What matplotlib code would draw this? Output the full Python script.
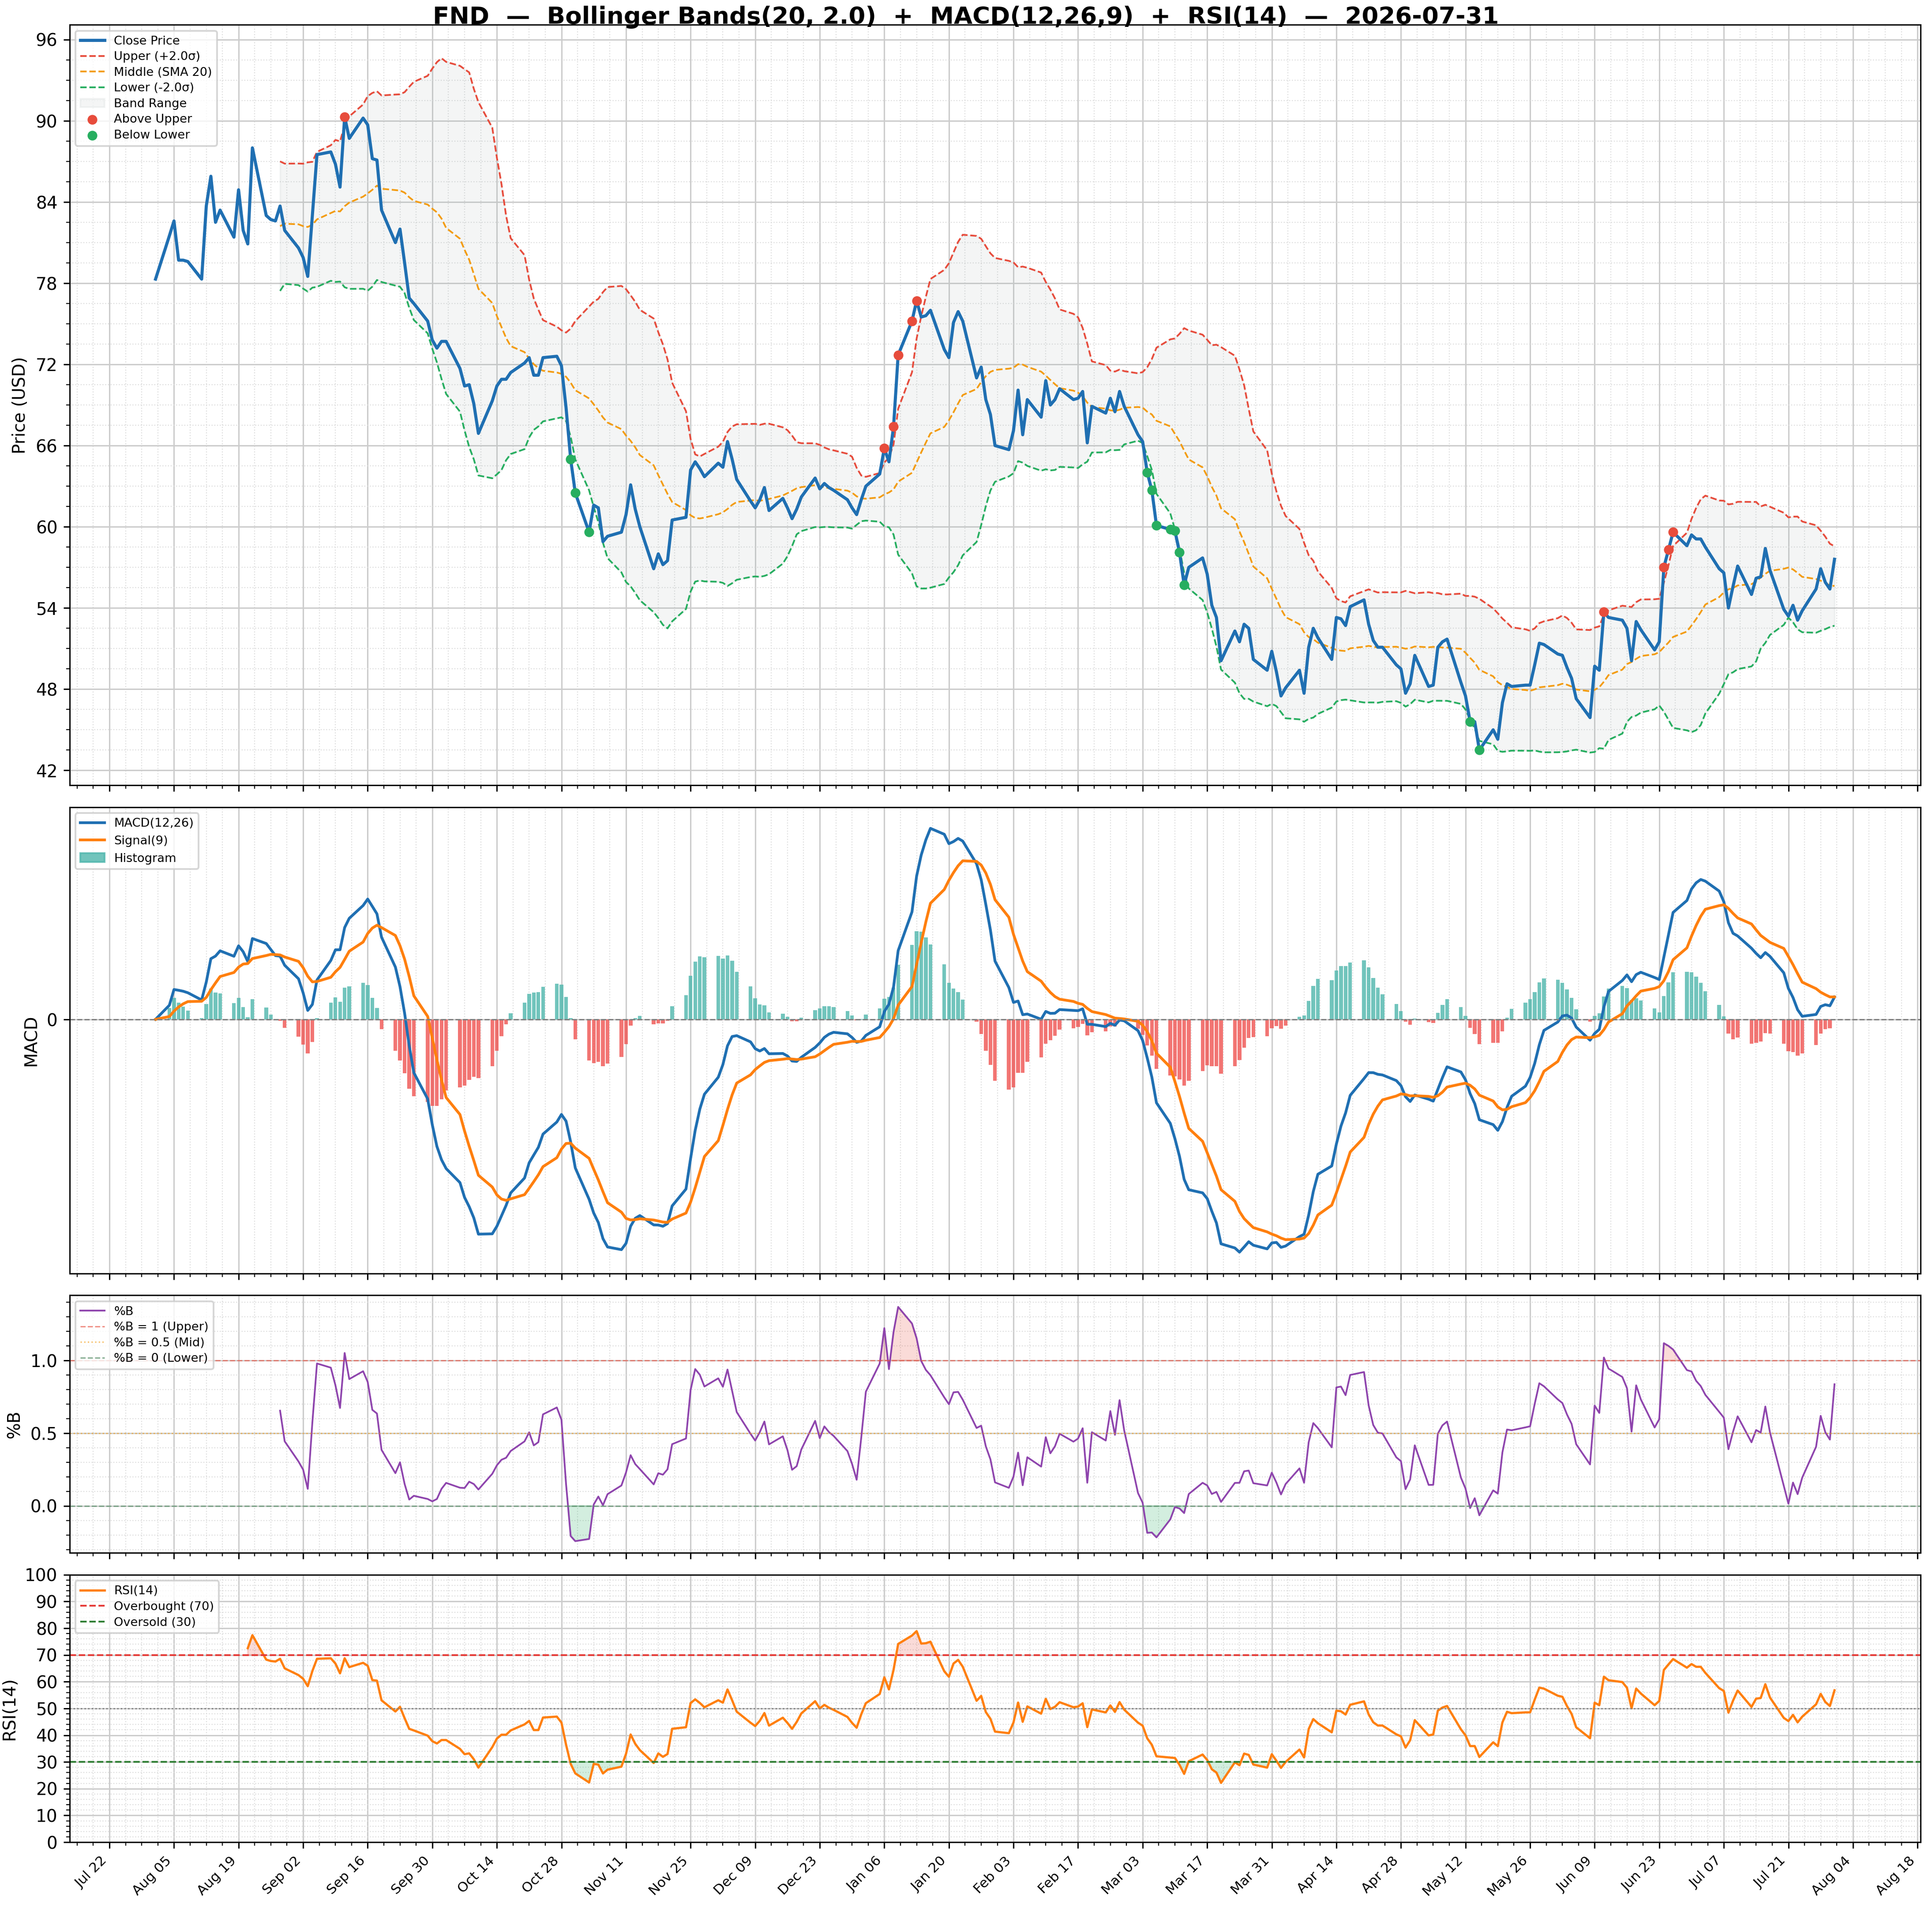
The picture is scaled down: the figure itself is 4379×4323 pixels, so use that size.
import matplotlib
matplotlib.use("Agg")
import matplotlib.pyplot as plt
import matplotlib.dates as mdates
from matplotlib.ticker import AutoMinorLocator, FixedLocator
from matplotlib.patches import Patch
import numpy as np
import pandas as pd

TICKER = "FND"
START = "2025-08-01"

close_aug = [78.3, 81.5, 82.6, 79.7, 79.7, 79.6, 78.3, 83.7, 85.9, 82.5, 83.4, 81.4, 84.9, 81.9, 80.9, 88.0, 83.0, 82.7, 82.6, 83.7, 81.9]
close_sep = [80.6, 79.9, 78.5, 83.0, 87.5, 87.7, 86.8, 85.1, 90.3, 88.7, 90.2, 89.7, 87.2, 87.1, 83.4, 81.0, 82.0, 79.5, 76.9, 76.5, 75.2, 73.8]
close_oct = [73.2, 73.7, 73.7, 71.7, 70.4, 70.5, 69.1, 66.9, 69.3, 70.4, 70.9, 70.9, 71.4, 72.1, 72.5, 71.2, 71.2, 72.5, 72.6, 71.9, 68.8, 65.0, 62.5]
close_nov = [59.6, 61.6, 61.4, 58.9, 59.3, 59.6, 60.9, 63.1, 61.3, 60.0, 56.9, 58.0, 57.2, 57.5, 60.5, 60.7, 64.2, 64.8, 64.3, 63.7]
close_dec = [64.7, 64.4, 66.3, 65.0, 63.5, 61.9, 61.4, 62.0, 62.9, 61.2, 62.1, 61.4, 60.6, 61.3, 62.2, 63.6, 62.8, 63.2, 62.9, 62.7, 62.0, 61.4, 60.9]
close_jan = [62.0, 63.0, 63.9, 65.8, 64.8, 67.4, 72.7, 75.2, 76.7, 75.5, 75.6, 76.0, 73.1, 72.5, 75.1, 75.9, 75.2, 71.0, 71.8, 69.4, 68.3, 66.0]
close_feb = [65.7, 67.1, 70.1, 66.8, 69.4, 68.1, 70.8, 69.0, 69.4, 70.2, 69.4, 69.5, 70.0, 66.2, 68.9, 68.4, 69.5, 68.5, 70.0, 68.9]
close_mar = [66.8, 66.3, 64.0, 62.7, 60.1, 59.8, 59.7, 58.1, 55.7, 57.0, 57.7, 56.5, 54.2, 53.3, 50.1, 52.3, 51.5, 52.8, 52.5, 50.2, 49.4, 50.8]
close_apr = [49.3, 47.5, 48.1, 49.4, 47.7, 51.1, 52.5, 51.8, 50.2, 53.3, 53.2, 52.7, 54.1, 54.6, 52.8, 51.6, 51.1, 51.1, 49.8, 49.5, 47.7, 48.4]
close_may = [50.5, 48.2, 48.3, 51.1, 51.5, 51.7, 48.5, 47.5, 45.6, 45.6, 43.5, 45.0, 44.3, 47.0, 48.4, 48.2, 48.3, 48.3, 49.8, 51.4, 51.3]
close_jun = [50.6, 50.5, 49.6, 48.8, 47.3, 45.9, 49.7, 49.4, 53.7, 53.3, 53.1, 52.5, 50.1, 53.0, 52.4, 50.9, 51.5, 57.0, 58.3, 59.6, 58.6, 59.4]
close_jul = [59.1, 59.1, 58.5, 56.9, 56.6, 54.0, 55.6, 57.1, 55.0, 56.2, 56.3, 58.4, 56.8, 53.9, 53.4, 54.2, 53.1, 53.8, 55.4, 56.9, 55.9, 55.4, 57.6]

closes = (close_aug + close_sep + close_oct + close_nov + close_dec + close_jan +
          close_feb + close_mar + close_apr + close_may + close_jun + close_jul)
dates = pd.bdate_range(START, periods=len(closes))
px = pd.Series(closes, index=dates)

# indicators
mid = px.rolling(20).mean()
sd = px.rolling(20).std(ddof=0)
upper = mid + 2 * sd
lower = mid - 2 * sd
pctb = (px - lower) / (upper - lower)

ema12 = px.ewm(span=12, adjust=False).mean()
ema26 = px.ewm(span=26, adjust=False).mean()
macd = ema12 - ema26
signal = macd.ewm(span=9, adjust=False).mean()
hist = macd - signal

delta = px.diff()
gain = delta.clip(lower=0).ewm(alpha=1/14, min_periods=14, adjust=False).mean()
loss = (-delta.clip(upper=0)).ewm(alpha=1/14, min_periods=14, adjust=False).mean()
rsi = 100 - 100 / (1 + gain / loss)

BLUE = "#1f6fb2"
RED = "#e74c3c"
ORANGE = "#f39c12"
GREEN = "#27ae60"

fig, axes = plt.subplots(4, 1, figsize=(15.64, 15.44), dpi=280, sharex=True,
                         gridspec_kw=dict(height_ratios=[620, 380, 210, 218], hspace=0.05))
fig.subplots_adjust(left=0.036, right=0.994, top=0.987, bottom=0.034)
ax1, ax2, ax3, ax4 = axes

for ax in axes:
    ax.minorticks_on()
    ax.grid(which="major", color="#cccccc", linewidth=0.8)
    ax.grid(which="minor", color="#dddddd", linestyle=":", linewidth=0.6)
    ax.set_axisbelow(True)

# price
ax1.fill_between(dates, lower, upper, color="#95a5a6", alpha=0.1, label="Band Range")
ax1.plot(dates, px, color=BLUE, lw=1.8, label="Close Price", zorder=4)
ax1.plot(dates, upper, color=RED, ls="--", lw=1.0, label="Upper (+2.0σ)")
ax1.plot(dates, mid, color=ORANGE, ls="--", lw=1.0, label="Middle (SMA 20)")
ax1.plot(dates, lower, color=GREEN, ls="--", lw=1.0, label="Lower (-2.0σ)")
above = px > upper
below = px < lower
ax1.scatter(dates[above], px[above], color=RED, s=22, zorder=5, label="Above Upper")
ax1.scatter(dates[below], px[below], color=GREEN, s=22, zorder=5, label="Below Lower")
ax1.set_ylim(40.9, 97.1)
ax1.set_yticks(np.arange(42, 97, 6))
ax1.yaxis.set_minor_locator(AutoMinorLocator(4))
ax1.set_ylabel("Price (USD)", fontsize=10)
h, l = ax1.get_legend_handles_labels()
order = [l.index(k) for k in ["Close Price", "Upper (+2.0σ)", "Middle (SMA 20)", "Lower (-2.0σ)",
                              "Band Range", "Above Upper", "Below Lower"]]
ax1.legend([h[i] for i in order], [l[i] for i in order], loc="upper left", fontsize=7,
           labelspacing=0.35)

# macd
colors = np.where(hist >= 0, "#4db6ac", "#ef5350")
ax2.bar(dates, hist, width=0.8, color=colors, alpha=0.8)
ax2.plot(dates, macd, color=BLUE, lw=1.6)
ax2.plot(dates, signal, color="#ff7f0e", lw=1.6)
ax2.axhline(0, color="grey", ls="--", lw=0.8)
ax2.set_yticks([0])
ax2.set_ylabel("MACD", fontsize=10)
ax2.legend([plt.Line2D([], [], color=BLUE, lw=1.6), plt.Line2D([], [], color="#ff7f0e", lw=1.6),
            Patch(color="#4db6ac", alpha=0.8)],
           ["MACD(12,26)", "Signal(9)", "Histogram"], loc="upper left", fontsize=7)

# %B
ax3.plot(dates, pctb, color="#8e44ad", lw=1.0, label="%B")
ax3.axhline(1, color=RED, ls="--", lw=0.8, alpha=0.6, label="%B = 1 (Upper)")
ax3.axhline(0.5, color=ORANGE, ls=":", lw=0.8, alpha=0.6, label="%B = 0.5 (Mid)")
ax3.axhline(0, color="#5a8f6a", ls="--", lw=0.8, alpha=0.7, label="%B = 0 (Lower)")
ax3.fill_between(dates, pctb, 1, where=pctb > 1, color=RED, alpha=0.2, interpolate=True)
ax3.fill_between(dates, pctb, 0, where=pctb < 0, color=GREEN, alpha=0.2, interpolate=True)
ax3.set_yticks([0.0, 0.5, 1.0])
ax3.set_ylabel("%B", fontsize=10)
ax3.legend(loc="upper left", fontsize=7, labelspacing=0.35)

# rsi
ax4.plot(dates, rsi, color="#ff7f0e", lw=1.3, label="RSI(14)")
ax4.axhline(70, color="#e53935", ls="--", lw=1.0, label="Overbought (70)")
ax4.axhline(30, color="#2e7d32", ls="--", lw=1.0, label="Oversold (30)")
ax4.axhline(50, color="grey", ls=":", lw=0.8)
ax4.fill_between(dates, rsi, 70, where=rsi > 70, color=RED, alpha=0.2, interpolate=True)
ax4.fill_between(dates, rsi, 30, where=rsi < 30, color=GREEN, alpha=0.2, interpolate=True)
ax4.set_ylim(0, 100)
ax4.set_yticks(np.arange(0, 101, 10))
ax4.set_ylabel("RSI(14)", fontsize=10)
ax4.legend(loc="upper left", fontsize=7, labelspacing=0.35)

ticks = pd.date_range("2025-07-22", "2026-08-18", freq="14D")
ax4.xaxis.set_major_locator(FixedLocator(mdates.date2num(ticks)))
ax4.xaxis.set_major_formatter(mdates.DateFormatter("%b %d"))
for t in ax4.get_xticklabels():
    t.set_rotation(45)
    t.set_ha("right")
    t.set_fontsize(8)

fig.suptitle(f"{TICKER}  —  Bollinger Bands(20, 2.0)  +  MACD(12,26,9)  +  RSI(14)  —  2026-07-31",
             fontsize=14, fontweight="bold", y=0.997)

fig.savefig("out.png")
